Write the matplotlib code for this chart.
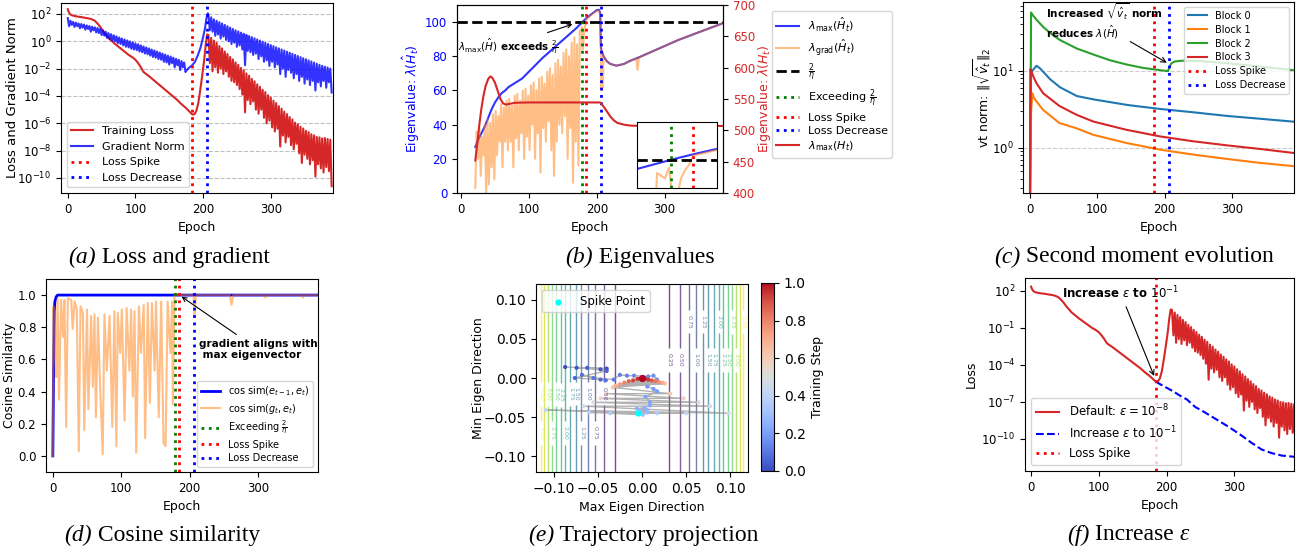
import matplotlib
matplotlib.use("Agg")
import numpy as np
import matplotlib.pyplot as plt
from matplotlib.ticker import NullLocator
from matplotlib.colors import Normalize
from matplotlib.cm import ScalarMappable

plt.rcParams.update({
    "font.size": 9, "axes.labelsize": 9, "xtick.labelsize": 8.5,
    "ytick.labelsize": 8.5, "legend.fontsize": 8.5,
})

TAB_RED = "#d62728"
ORANGE = "tab:orange"

# ---------------- event epochs ----------------
EXCEED_EPOCH = 178.5
SPIKE_EPOCH = 184
DECREASE_EPOCH = 206

# ---------------- (a) training loss, log10 ----------------
loss_early_ep = [0, 1, 3, 6, 10, 15, 20, 25, 30, 35, 40, 44, 48, 52, 56, 60, 65, 70, 75, 80,
                 85, 90, 95, 100, 104, 108, 112, 116, 120, 126, 132, 138, 144, 150, 156, 162,
                 168, 174, 180, 184, 187, 190, 193, 196, 199, 202, 204, 206]
loss_early_log = [2.35, 2.2, 2.0, 1.9, 1.85, 1.8, 1.77, 1.72, 1.68, 1.62, 1.5, 1.3, 1.05, 0.75,
                  0.5, 0.25, 0.02, -0.2, -0.4, -0.6, -0.8, -1.0, -1.15, -1.35, -1.6, -1.9,
                  -2.25, -2.4, -2.55, -2.8, -3.05, -3.3, -3.55, -3.8, -4.05, -4.3, -4.6, -4.85,
                  -5.15, -5.35, -5.35, -5.1, -4.5, -3.5, -2.4, -1.2, -0.2, 0.5]
# after the spike: peaks at 208, 212, ... and troughs at 210, 214, ...
loss_peak_log = [0.45, 0.25, 0.05, -0.12, -0.35, -0.52, -0.75, -0.93, -1.15, -1.33,
                 -1.55, -1.72, -1.95, -2.12, -2.35, -2.52, -2.75, -2.93, -3.15, -3.33,
                 -3.55, -3.72, -3.95, -4.12, -4.35, -4.52, -4.75, -4.93, -5.15, -5.33,
                 -5.55, -5.72, -5.95, -6.08, -6.25, -6.38, -6.55, -6.65, -6.8, -6.88,
                 -7.0, -7.03, -7.1, -7.08, -7.15, -7.2]
loss_trough_log = [-1.6, -2.2, -1.9, -2.3, -2.0, -2.4, -2.2, -2.6, -2.9, -3.0,
                   -3.2, -3.5, -3.9, -5.2, -4.3, -4.6, -4.4, -5.0, -5.3, -5.0,
                   -5.6, -6.0, -5.8, -6.3, -6.6, -6.4, -7.7, -6.9, -7.4, -7.0,
                   -7.6, -7.9, -7.5, -8.2, -8.9, -8.3, -8.6, -9.0, -8.7, -9.9,
                   -9.0, -9.3, -9.6, -9.2, -9.5]
loss_final = (390, -10.6)

# ---------------- (a) gradient norm, log10 ----------------
gn_early_peak = [1.7, 1.5, 1.42, 1.36, 1.3, 1.26, 1.22, 1.16, 1.12, 1.07,
                 1.02, 0.97, 0.9, 0.8, 0.7, 0.6, 0.52, 0.44, 0.36, 0.28,
                 0.2, 0.13, 0.06, -0.01, -0.08, -0.15, -0.22, -0.3, -0.38, -0.45,
                 -0.52, -0.6, -0.67, -0.75, -0.82, -0.9, -0.97, -1.05, -1.12, -1.2,
                 -1.28, -1.35, -1.45, -1.55]
gn_early_trough = [1.1, 1.2, 1.05, 1.1, 0.95, 1.0, 0.85, 0.9, 0.7, 0.8,
                   0.65, 0.6, 0.45, 0.4, 0.25, 0.15, 0.05, 0.0, -0.15, -0.2,
                   -0.3, -0.4, -0.45, -0.55, -0.6, -0.65, -0.75, -0.8, -0.9, -0.95,
                   -1.05, -1.15, -1.2, -1.3, -1.35, -1.5, -1.55, -1.7, -1.6, -1.9,
                   -1.75, -2.1, -1.9, -2.25]
gn_mid_ep = [176, 178, 180, 184, 188, 192, 196, 200, 203, 205, 207]
gn_mid_log = [-2.1, -2.0, -1.9, -1.75, -1.5, -1.05, -0.5, 0.3, 1.0, 1.7, 2.05]
gn_peak_log = [1.9, 1.75, 1.6, 1.5, 1.4, 1.3, 1.2, 1.1, 1.0, 0.9,
               0.8, 0.72, 0.63, 0.55, 0.47, 0.38, 0.3, 0.22, 0.13, 0.05,
               -0.03, -0.12, -0.2, -0.28, -0.36, -0.44, -0.52, -0.6, -0.68, -0.76,
               -0.84, -0.92, -1.0, -1.08, -1.16, -1.24, -1.32, -1.4, -1.48, -1.56,
               -1.64, -1.72, -1.8, -1.86, -1.92, -2.0]
gn_trough_log = [0.8, 0.7, 0.4, 0.5, 0.2, 0.35, 0.1, 0.0, -0.2, -0.1,
                 -0.4, -0.3, -0.6, -1.75, -0.7, -0.8, -1.0, -0.9, -1.3, -1.1,
                 -1.5, -1.4, -1.8, -1.5, -1.9, -1.7, -2.4, -2.0, -2.6, -2.1,
                 -2.3, -2.7, -2.4, -2.9, -2.6, -3.1, -2.8, -3.2, -2.9, -3.6,
                 -3.0, -3.3, -2.9, -3.4, -3.0]
gn_final = (390, -3.75)

# ---------------- (b) eigenvalues ----------------
lam_ep = [21, 25, 30, 35, 40, 45, 50, 55, 60, 65, 70, 80, 90, 100, 110, 120, 130, 140, 150,
          160, 170, 175, 180, 185, 190, 195, 200, 203, 205, 206, 207, 210, 215, 220, 229,
          240, 250, 260, 280, 300, 320, 340, 360, 387]
lam_hat_max = [27, 31, 35, 39, 44, 49, 53, 56, 58.5, 60, 62, 64.5, 67, 71, 75, 79, 82.5, 86,
               89.5, 93, 96.5, 98.5, 100.5, 102.3, 104, 105.5, 107, 107.2, 105.5, 86, 83, 80,
               77, 75.5, 74.5, 75.5, 77.5, 79, 82.5, 86, 89.5, 92.5, 95.5, 99.5]
# gradient-direction eigenvalue: troughs at 21, 25, ... and peaks at 23, 27, ...
lam_grad_trough = [3, 20, 10, 22, 0, 5, 15, 8, 22, 30, 15, 30, 25, 30, 15, 32, 25, 35, 20, 33,
                   25, 40, 20, 35, 12, 38, 30, 42, 25, 10, 30, 40, 35, 45, 20, 38, 6, 30, 16, 93]
lam_grad_peak = [36, 38, 33, 40, 43, 41, 46, 48, 45, 52, 50, 54, 55, 51, 57, 58, 54, 60, 61, 57,
                 63, 64.5, 60, 67, 68, 64, 71, 73, 69, 76, 78, 74, 82, 84, 80, 88, 91, 87, 95]
lam_grad_late_ep = [178, 179, 180, 181, 182, 183, 184, 187, 190, 195, 200, 203, 205, 206, 207,
                    208, 209, 210, 212, 215, 220, 229, 240, 250, 258, 260, 262, 280, 300, 320,
                    340, 360, 387]
lam_grad_late = [97, 84, 86, 93, 96, 98, 101.5, 102.5, 103.6, 105.2, 106.6, 106.8, 105, 86, 60,
                 83, 62, 80, 78.5, 77, 75.5, 74.5, 75.5, 77.5, 78.8, 72, 79.2, 82.5, 86, 89.5,
                 92.5, 95.5, 99.5]
lamH_ep = [21, 24, 27, 30, 33, 36, 40, 43, 46, 50, 54, 58, 62, 66, 70, 80, 100, 150, 205, 210,
           215, 220, 225, 230, 240, 250, 270, 300, 387]
lamH_max = [452, 480, 510, 535, 555, 570, 582, 586, 584, 576, 563, 550, 543, 541, 542, 544,
            544.5, 544.5, 544.5, 538, 530, 522, 516, 512, 509, 507.5, 507, 507, 507]
TWO_OVER_ETA = 100

# ---------------- (c) second moment norms ----------------
block0_ep = [0, 2, 5, 10, 15, 20, 30, 45, 70, 95, 145, 193, 242, 292, 341, 391]
block0 = [0.05, 9.5, 10.3, 11.6, 10.8, 9.7, 7.8, 6.1, 4.7, 4.25, 3.6, 3.2, 2.9, 2.6, 2.39, 2.19]
block1_ep = [0, 2, 4, 6, 10, 20, 44, 69, 94, 143, 193, 242, 292, 341, 391]
block1 = [0.05, 3.0, 5.1, 4.5, 4.0, 3.1, 2.1, 1.8, 1.48, 1.16, 0.95, 0.82, 0.72, 0.64, 0.58]
block2_ep = [0, 2, 5, 10, 20, 30, 45, 70, 94, 119, 143, 168, 193, 205, 207, 210, 215, 225, 250,
             290, 340, 391]
block2 = [0.05, 57, 52, 46, 37, 31, 25, 19.4, 16.3, 13.7, 12.1, 10.9, 10.2, 9.9, 11.0, 12.5,
          13.2, 13.5, 13.4, 12.6, 11.4, 10.2]
block3_ep = [0, 1, 3, 6, 10, 20, 44, 69, 94, 143, 193, 242, 292, 341, 391]
block3 = [0.05, 10.5, 9.5, 8.2, 6.9, 5.1, 3.5, 2.7, 2.2, 1.72, 1.41, 1.22, 1.08, 0.97, 0.86]

# ---------------- (d) cosine similarity ----------------
cos_e_ep = [0, 1, 2, 3, 5, 7, 390]
cos_e = [0.0, 0.5, 0.9, 0.96, 0.99, 1.0, 1.0]
cos_g_ep = [0, 1, 3, 5, 7, 9, 12, 15, 17, 19.5, 22, 27, 29, 32, 35, 38, 40.5, 44, 46, 50,
            52, 56, 58.5, 61, 63, 66, 69, 73, 75.5, 79, 83, 87, 90, 93, 95, 98.5, 101, 105,
            108, 112, 114.5, 117, 119.5, 122, 126, 129, 133, 135, 139, 142, 145, 149, 151,
            155, 158.5, 162, 165, 168, 172, 174.5, 175.6, 178, 206, 207.5, 209, 211, 259,
            261.5, 264, 310, 311, 312, 365, 366, 367, 390]
cos_g = [0.0, 0.93, 0.7, 0.49, 0.98, 0.35, 0.97, 0.74, 0.97, 0.18, 0.98, 0.97, 0.79, 0.96,
         0.91, 0.03, 0.93, 0.89, 0.16, 0.91, 0.29, 0.87, 0.43, 0.88, 0.24, 0.86, 0.45, 0.01,
         0.88, 0.53, 0.87, 0.18, 0.9, 0.06, 0.89, 0.64, 0.91, 0.22, 0.92, 0.53, 0.91, 0.37,
         0.9, 0.02, 0.93, 0.64, 0.94, 0.11, 0.95, 0.33, 0.95, 0.53, 0.96, 0.24, 0.96, 0.08,
         0.06, 0.96, 0.64, 0.96, 0.32, 1.0, 1.0, 0.87, 0.99, 1.0, 1.0, 0.94, 1.0, 1.0, 0.985,
         1.0, 1.0, 0.985, 1.0, 1.0]

# ---------------- (e) trajectory projection ----------------
traj_x = [-0.087, -0.040, -0.074, -0.047, -0.062, -0.040, -0.076, -0.047, -0.068, -0.041,
          -0.055, -0.032, -0.025, -0.017, -0.009, 0.007, 0.013, 0.017, 0.006, 0.013,
          0.017, 0.004, 0.009, 0.009, 0.003, -0.006, 0.006, -0.002, 0.006, -0.004,
          0.001, -0.036, 0.017, -0.060, 0.050, -0.109, 0.098, -0.066, 0.077, -0.055,
          0.064, -0.047, 0.047, -0.040, 0.032, -0.033, 0.026, -0.030, 0.023, -0.025,
          0.019, -0.020, 0.015, -0.015, 0.011, -0.010, 0.007, -0.005, 0.003, 0.0]
traj_y = [0.014, 0.012, 0.013, 0.011, 0.013, 0.009, 0.000, -0.002, 0.004, -0.003,
          0.000, -0.002, 0.004, 0.003, 0.003, 0.002, 0.003, -0.002, -0.011, -0.014,
          -0.017, -0.024, -0.031, -0.035, -0.038, -0.039, -0.041, -0.042, -0.044, -0.0445,
          -0.047, -0.045, -0.045, -0.044, -0.045, -0.041, -0.045, -0.036, -0.036, -0.031,
          -0.031, -0.026, -0.026, -0.020, -0.020, -0.012, -0.007, -0.010, -0.006, -0.008,
          -0.005, -0.006, -0.004, -0.004, -0.003, -0.003, -0.002, -0.001, -0.0005, 0.0]
traj_step = [0.00, 0.01, 0.02, 0.03, 0.04, 0.05, 0.06, 0.07, 0.08, 0.09,
             0.10, 0.11, 0.12, 0.13, 0.14, 0.15, 0.16, 0.17, 0.18, 0.19,
             0.20, 0.21, 0.22, 0.23, 0.24, 0.25, 0.26, 0.27, 0.28, 0.29,
             0.30, 0.34, 0.36, 0.38, 0.40, 0.42, 0.44, 0.46, 0.48, 0.50,
             0.52, 0.54, 0.56, 0.58, 0.60, 0.62, 0.64, 0.68, 0.71, 0.74,
             0.77, 0.80, 0.83, 0.86, 0.89, 0.92, 0.94, 0.96, 0.98, 1.00]
spike_point = (-0.004, -0.0445)
landscape_x = [-0.12, -0.11, -0.10, -0.09, -0.08, -0.07, -0.06, -0.05, -0.04, -0.03, -0.02,
               -0.01, 0.0, 0.01, 0.02, 0.03, 0.04, 0.05, 0.06, 0.07, 0.08, 0.09, 0.10, 0.11,
               0.12]
landscape_loss = [3.82, 3.21, 2.65, 2.15, 1.70, 1.30, 0.95, 0.66, 0.42, 0.24, 0.106, 0.027,
                  0.0, 0.027, 0.106, 0.24, 0.42, 0.66, 0.95, 1.30, 1.70, 2.15, 2.65, 3.21, 3.82]
contour_levels = [0.25, 0.5, 0.75, 1.0, 1.25, 1.5, 1.75, 2.0, 2.25, 2.5, 2.75, 3.0, 3.25, 3.5]
# where the contour values are written: (x, y) near each labelled line
contour_label_spots = [
    (0.053, 0.072), (0.069, 0.072), (0.087, 0.072), (0.102, 0.072), (0.115, 0.072),
    (0.031, 0.023), (0.043, 0.023), (0.061, 0.023), (0.075, 0.023), (0.081, 0.023),
    (0.092, 0.023), (0.097, 0.023), (0.107, 0.023),
    (-0.043, -0.020), (-0.061, -0.020), (-0.075, -0.020), (-0.081, -0.020),
    (-0.092, -0.022), (-0.097, -0.020), (-0.107, -0.020), (-0.115, -0.020),
    (-0.053, -0.070), (-0.069, -0.070), (-0.087, -0.070), (-0.102, -0.070), (-0.115, -0.070),
]

# ---------------- (f) increased epsilon ----------------
eps_ep = [184, 190, 200, 210, 220, 230, 242, 255, 270, 291, 310, 325, 340, 355, 370, 389]
eps_loss_log = [-5.35, -5.55, -5.85, -6.15, -6.5, -6.8, -7.4, -7.8, -8.3, -9.0, -9.7, -10.3,
                -10.85, -11.15, -11.35, -11.45]


def zigzag(start, first, second, step=4):
    """Alternate two value lists on a regular epoch grid."""
    ep, val = [], []
    for i, v in enumerate(first):
        ep.append(start + step * i)
        val.append(v)
        if i < len(second):
            ep.append(start + step * i + step // 2)
            val.append(second[i])
    return ep, val


W, H = 1299, 552
fig = plt.figure(figsize=(W / 100, H / 100), dpi=100)


def px_axes(l, t, r, b):
    return fig.add_axes([l / W, 1 - b / H, (r - l) / W, (b - t) / H])


def event_lines(ax, exceed=False, lw=2):
    if exceed:
        ax.axvline(EXCEED_EPOCH, color="green", ls=":", lw=lw, label=r"Exceeding $\frac{2}{\eta}$")
    ax.axvline(SPIKE_EPOCH, color="red", ls=":", lw=lw, label="Loss Spike")
    ax.axvline(DECREASE_EPOCH, color="blue", ls=":", lw=lw, label="Loss Decrease")


# full loss and gradient-norm curves
e1, v1 = zigzag(208, loss_peak_log, loss_trough_log)
loss_ep = np.array(loss_early_ep + e1 + [loss_final[0]])
loss_val = 10.0 ** np.array(loss_early_log + v1 + [loss_final[1]])
e0, v0 = zigzag(0, gn_early_peak, gn_early_trough)
e2, v2 = zigzag(208, gn_peak_log, gn_trough_log)
gn_ep = np.array(e0 + gn_mid_ep + e2 + [gn_final[0]])
gn_val = 10.0 ** np.array(v0 + gn_mid_log + v2 + [gn_final[1]])

# ================= (a) =================
ax = px_axes(61, 3, 333, 193)
ax.semilogy(loss_ep, loss_val, color=TAB_RED, lw=1.5, label="Training Loss")
ax.semilogy(gn_ep, gn_val, color="blue", alpha=0.8, lw=1.5, label="Gradient Norm")
event_lines(ax)
ax.set_xlim(-10, 392)
ax.set_ylim(10 ** -11.1, 10 ** 2.8)
ax.set_yticks([10.0 ** k for k in range(-10, 3, 2)])
ax.yaxis.set_minor_locator(NullLocator())
ax.set_xticks([0, 100, 200, 300])
ax.grid(True, axis="y", ls="--", color="gray", alpha=0.5, lw=0.8)
ax.set_xlabel("Epoch")
ax.set_ylabel("Loss and Gradient Norm", fontsize=9.5)
ax.yaxis.set_label_coords(-0.155, 0.5)
ax.legend(loc="lower left", fontsize=8)

# ================= (b) =================
axb = px_axes(457, 5, 723, 193)
h_hat, = axb.plot(lam_ep, lam_hat_max, color="blue", alpha=0.8, lw=1.5)
eg, vg = zigzag(21, lam_grad_trough, lam_grad_peak)
grad_ep = eg + lam_grad_late_ep
grad_val = vg + lam_grad_late
h_grad, = axb.plot(grad_ep, grad_val, color=ORANGE, alpha=0.5, lw=1.5)
h_eta = axb.axhline(TWO_OVER_ETA, color="black", ls="--", lw=2)
h_ex = axb.axvline(EXCEED_EPOCH, color="green", ls=":", lw=2)
h_sp = axb.axvline(SPIKE_EPOCH, color="red", ls=":", lw=2)
h_de = axb.axvline(DECREASE_EPOCH, color="blue", ls=":", lw=2)
axb.set_xlim(-6, 386)
axb.set_ylim(0, 110)
axb.set_xticks([0, 100, 200, 300])
axb.set_xlabel("Epoch")
axb.set_ylabel(r"Eigenvalue: $\lambda(\hat{H}_t)$", color="blue")
axb.yaxis.set_label_coords(-0.13, 0.5)
axb.tick_params(axis="y", labelcolor="blue")
axb.annotate(r"$\lambda_{\max}(\hat{H})$ exceeds $\frac{2}{\eta}$", xy=(168, 99.3),
             xytext=(-5, 86), ha="left", va="center", fontsize=7.5, fontweight="bold",
             arrowprops=dict(arrowstyle="->", color="black", lw=0.8))
axr = axb.twinx()
h_H, = axr.plot(lamH_ep, lamH_max, color=TAB_RED, lw=1.5)
axr.set_ylim(400, 700)
axr.set_ylabel(r"Eigenvalue: $\lambda(H_t)$", color=TAB_RED)
axr.yaxis.set_label_coords(1.125, 0.5)
axr.tick_params(axis="y", labelcolor=TAB_RED)
axr.legend([h_hat, h_grad, h_eta, h_ex, h_sp, h_de, h_H],
           [r"$\lambda_{\max}(\hat{H}_t)$", r"$\lambda_{\mathrm{grad}}(\hat{H}_t)$",
            r"$\frac{2}{\eta}$", r"Exceeding $\frac{2}{\eta}$", "Loss Spike", "Loss Decrease",
            r"$\lambda_{\max}(H_t)$"],
           loc="upper left", bbox_to_anchor=(772 / W, 1 - 11 / H),
           bbox_transform=fig.transFigure, borderaxespad=0, fontsize=8, labelspacing=0.3)

# zoomed view around the 2/eta crossing
axi = px_axes(637, 122, 717, 188)
axi.plot(lam_ep, lam_hat_max, color="blue", alpha=0.8, lw=1.5)
axi.plot(grad_ep, grad_val, color=ORANGE, alpha=0.5, lw=1.5)
axi.axhline(TWO_OVER_ETA, color="black", ls="--", lw=2)
axi.axvline(EXCEED_EPOCH, color="green", ls=":", lw=2)
axi.axvline(SPIKE_EPOCH, color="red", ls=":", lw=2)
axi.set_xlim(170, 190)
axi.set_ylim(89.4, 114)
axi.set_xticks([])
axi.set_yticks([])

# ================= (c) =================
axc = px_axes(1023, 2, 1294, 193)
axc.semilogy(block0_ep, block0, color="tab:blue", lw=1.5, label="Block 0")
axc.semilogy(block1_ep, block1, color="tab:orange", lw=1.5, label="Block 1")
axc.semilogy(block2_ep, block2, color="tab:green", lw=1.5, label="Block 2")
axc.semilogy(block3_ep, block3, color="tab:red", lw=1.5, label="Block 3")
event_lines(axc)
axc.set_xlim(-10, 392)
axc.set_ylim(0.26, 78)
axc.set_xticks([0, 100, 200, 300])
axc.grid(True, axis="y", which="major", ls="--", color="gray", alpha=0.4, lw=0.8)
axc.set_xlabel("Epoch")
axc.set_ylabel(r"vt norm: $\|\sqrt{\hat{v}_t}\|_2$")
axc.yaxis.set_label_coords(-0.112, 0.5)
axc.legend(loc="upper right", fontsize=7, labelspacing=0.4)
axc.text(0.085, 0.915, r"Increased $\sqrt{\hat{v}_t}$ norm", transform=axc.transAxes,
         ha="left", va="baseline", fontsize=7.5, fontweight="bold")
axc.text(0.085, 0.815, r"reduces $\lambda(\hat{H})$", transform=axc.transAxes,
         ha="left", va="baseline", fontsize=7.5, fontweight="bold")
axc.annotate("", xy=(207, 12.2), xytext=(0.387, 0.80), textcoords="axes fraction",
             arrowprops=dict(arrowstyle="->", color="black", lw=0.8))

# ================= (d) =================
axd = px_axes(46, 279, 318, 472)
axd.plot(cos_e_ep, cos_e, color="blue", lw=2, label=r"cos sim$(e_{t-1}, e_t)$")
axd.plot(cos_g_ep, cos_g, color=ORANGE, alpha=0.5, lw=1.5, label=r"cos sim$(g_t, e_t)$")
event_lines(axd, exceed=True)
axd.set_xlim(-10, 388)
axd.set_ylim(-0.1, 1.1)
axd.set_xticks([0, 100, 200, 300])
axd.set_yticks([0.0, 0.2, 0.4, 0.6, 0.8, 1.0])
axd.set_xlabel("Epoch")
axd.set_ylabel("Cosine Similarity")
axd.yaxis.set_label_coords(-0.11, 0.5)
axd.legend(loc="lower right", fontsize=7, labelspacing=0.35)
axd.annotate("gradient aligns with\n max eigenvector", xy=(185, 1.0),
             xytext=(0.5625, 0.69), textcoords="axes fraction", ha="left", va="top",
             fontsize=7.5, fontweight="bold",
             arrowprops=dict(arrowstyle="->", color="black", lw=0.8))

# ================= (e) =================
axe = px_axes(536, 284, 748, 472)
Z = np.vstack([landscape_loss, landscape_loss])
cs = axe.contour(landscape_x, [-0.12, 0.12], Z, levels=contour_levels, cmap="viridis",
                 alpha=0.7, linewidths=1)
axe.clabel(cs, inline=True, fontsize=4.5, fmt="%.2f", manual=contour_label_spots)
axe.plot(traj_x, traj_y, color="gray", alpha=0.6, lw=1, zorder=2)
axe.scatter(traj_x, traj_y, c=traj_step, cmap="coolwarm", vmin=0, vmax=1, s=9,
            edgecolors="none", zorder=3)
axe.scatter([traj_x[-1]], [traj_y[-1]], color=plt.get_cmap("coolwarm")(1.0), s=18, zorder=4)
axe.scatter([spike_point[0]], [spike_point[1]], color="cyan", s=12, zorder=5,
            label="Spike Point")
axe.set_xlim(-0.12, 0.12)
axe.set_ylim(-0.12, 0.12)
axe.set_xticks([-0.10, -0.05, 0.0, 0.05, 0.10])
axe.set_yticks([-0.10, -0.05, 0.0, 0.05, 0.10])
axe.tick_params(labelsize=10)
axe.set_xlabel("Max Eigen Direction")
axe.set_ylabel("Min Eigen Direction")
axe.yaxis.set_label_coords(-0.24, 0.5)
axe.legend(loc="upper left", fontsize=8.5)
cax = px_axes(761, 283, 774, 471)
cb = fig.colorbar(ScalarMappable(norm=Normalize(0, 1), cmap="coolwarm"), cax=cax)
cb.set_ticks([0.0, 0.2, 0.4, 0.6, 0.8, 1.0])
cb.ax.tick_params(labelsize=10)
cb.set_label("Training Step")

# ================= (f) =================
axf = px_axes(1025, 278, 1294, 471)
axf.semilogy(loss_ep, loss_val, color=TAB_RED, lw=1.5, label=r"Default: $\varepsilon=10^{-8}$")
axf.semilogy(eps_ep, 10.0 ** np.array(eps_loss_log), color="blue", ls="--", lw=1.5,
             label=r"Increase $\varepsilon$ to $10^{-1}$")
axf.axvline(SPIKE_EPOCH, color="red", ls=":", lw=2, label="Loss Spike")
axf.set_xlim(-9, 388)
axf.set_ylim(10 ** -12.6, 10 ** 3.05)
axf.set_yticks([1e2, 1e-1, 1e-4, 1e-7, 1e-10])
axf.yaxis.set_minor_locator(NullLocator())
axf.set_xticks([0, 100, 200, 300])
axf.set_xlabel("Epoch")
axf.set_ylabel("Loss")
axf.yaxis.set_label_coords(-0.175, 0.5)
axf.legend(loc="lower left")
axf.annotate(r"Increase $\varepsilon$ to $10^{-1}$", xy=(183, 10 ** -5.1),
             xytext=(0.1375, 0.922), textcoords="axes fraction", ha="left", va="center",
             fontsize=8.5, fontweight="bold",
             arrowprops=dict(arrowstyle="->", color="black", lw=0.8))

# ================= captions =================
renderer = fig.canvas.get_renderer()


def caption(xc, yc, parts):
    texts = [fig.text(0, 0, s, fontsize=17, family="Liberation Serif", style=st,
                      ha="left", va="center") for s, st in parts]
    widths = [t.get_window_extent(renderer).width for t in texts]
    x = xc - sum(widths) / 2
    for t, w in zip(texts, widths):
        t.set_position((x / W, 1 - yc / H))
        x += w


caption(169, 257, [("(a)", "italic"), (" Loss and gradient", "normal")])
caption(640, 257, [("(b)", "italic"), (" Eigenvalues", "normal")])
caption(1134, 257, [("(c)", "italic"), (" Second moment evolution", "normal")])
caption(162, 535, [("(d)", "italic"), (" Cosine similarity", "normal")])
caption(643, 535, [("(e)", "italic"), (" Trajectory projection", "normal")])
caption(1128, 535, [("(f)", "italic"), (" Increase ", "normal"), ("ε", "italic")])

fig.savefig("out.png", dpi=100)
